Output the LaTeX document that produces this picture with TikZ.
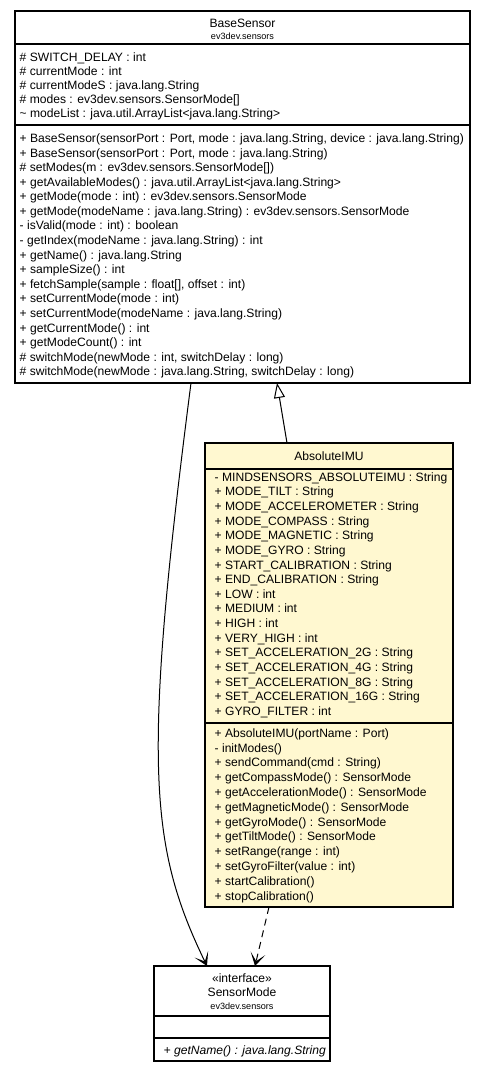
\documentclass[tikz,border=0pt]{standalone}
\usepackage{fontspec}
\setmainfont{Liberation Sans}
\usetikzlibrary{positioning, arrows.meta}
\usepackage{xcolor}
\definecolor{imuyellow}{HTML}{FFF8D0}
\newcommand{\umlfont}{\fontsize{12.1}{14}\selectfont}
\newcommand{\pkgfont}{\fontsize{9.1}{10}\selectfont}

\begin{document}
\begin{tikzpicture}[x=1pt, y=-1pt,
    classbox/.style={draw, line width=1.3pt, inner sep=0pt, outer sep=0pt, anchor=north west},
    member/.style={anchor=base west, inner sep=0pt, font=\umlfont},
    title/.style={anchor=base, inner sep=0pt, font=\umlfont},
    pkg/.style={anchor=base, inner sep=0pt, font=\pkgfont},
    extends/.style={line width=1pt, -{Triangle[open, length=15pt, width=11pt, fill=white]}},
    assoc/.style={line width=1pt, -{Stealth[length=13pt, width=15pt, inset=8pt]}},
    depends/.style={assoc, dash pattern=on 7pt off 5pt}]
    \useasboundingbox (0,0) rectangle (485,1071);

    % Classes
    \node[classbox, minimum width=455pt, minimum height=372pt] (base) at (15,11) {};
    \node[classbox, fill=imuyellow, minimum width=248pt, minimum height=464pt] (imu) at (205,443) {};
    \node[classbox, minimum width=176pt, minimum height=95pt] (mode) at (154,966) {};

    % Compartment lines
    \draw[line width=1.3pt] (base.west |- 0,44) -- (base.east |- 0,44);
    \draw[line width=1.3pt] (base.west |- 0,125) -- (base.east |- 0,125);
    \draw[line width=1.3pt] (imu.west |- 0,469) -- (imu.east |- 0,469);
    \draw[line width=1.3pt] (imu.west |- 0,723) -- (imu.east |- 0,723);
    \draw[line width=1.3pt] (mode.west |- 0,1016) -- (mode.east |- 0,1016);
    \draw[line width=1.3pt] (mode.west |- 0,1038) -- (mode.east |- 0,1038);

    % BaseSensor
    \node[title] (baseName) at (242.5,27) {BaseSensor};
    \node[pkg] (basePkg) at (242.5,39) {ev3dev.sensors};
    \foreach \txt [count=\i] in {%
        {\# SWITCH\_DELAY : int},
        {\# currentMode : int},
        {\# currentModeS : java.lang.String},
        {\# modes : ev3dev.sensors.SensorMode[]},
        {\textasciitilde{} modeList : java.util.ArrayList<java.lang.String>}}
        \node[member] (baseAttr\i) at (19.5, {61+14*(\i-1)}) {\txt};
    \foreach \txt [count=\i] in {%
        {+ BaseSensor(sensorPort : Port, mode : java.lang.String, device : java.lang.String)},
        {+ BaseSensor(sensorPort : Port, mode : java.lang.String)},
        {\# setModes(m : ev3dev.sensors.SensorMode[])},
        {+ getAvailableModes() : java.util.ArrayList<java.lang.String>},
        {+ getMode(mode : int) : ev3dev.sensors.SensorMode},
        {+ getMode(modeName : java.lang.String) : ev3dev.sensors.SensorMode},
        {- isValid(mode : int) : boolean},
        {- getIndex(modeName : java.lang.String) : int},
        {+ getName() : java.lang.String},
        {+ sampleSize() : int},
        {+ fetchSample(sample : float[], offset : int)},
        {+ setCurrentMode(mode : int)},
        {+ setCurrentMode(modeName : java.lang.String)},
        {+ getCurrentMode() : int},
        {+ getModeCount() : int},
        {\# switchMode(newMode : int, switchDelay : long)},
        {\# switchMode(newMode : java.lang.String, switchDelay : long)}}
        \node[member] (baseOp\i) at (19.5, {142.5+14.58*(\i-1)}) {\txt};

    % AbsoluteIMU
    \node[title] (imuName) at (329,460) {AbsoluteIMU};
    \foreach \txt [count=\i] in {%
        {- MINDSENSORS\_ABSOLUTEIMU : String},
        {+ MODE\_TILT : String},
        {+ MODE\_ACCELEROMETER : String},
        {+ MODE\_COMPASS : String},
        {+ MODE\_MAGNETIC : String},
        {+ MODE\_GYRO : String},
        {+ START\_CALIBRATION : String},
        {+ END\_CALIBRATION : String},
        {+ LOW : int},
        {+ MEDIUM : int},
        {+ HIGH : int},
        {+ VERY\_HIGH : int},
        {+ SET\_ACCELERATION\_2G : String},
        {+ SET\_ACCELERATION\_4G : String},
        {+ SET\_ACCELERATION\_8G : String},
        {+ SET\_ACCELERATION\_16G : String},
        {+ GYRO\_FILTER : int}}
        \node[member] (imuAttr\i) at (214.5, {481.3+14.63*(\i-1)}) {\txt};
    \foreach \txt [count=\i] in {%
        {+ AbsoluteIMU(portName : Port)},
        {- initModes()},
        {+ sendCommand(cmd : String)},
        {+ getCompassMode() : SensorMode},
        {+ getAccelerationMode() : SensorMode},
        {+ getMagneticMode() : SensorMode},
        {+ getGyroMode() : SensorMode},
        {+ getTiltMode() : SensorMode},
        {+ setRange(range : int)},
        {+ setGyroFilter(value : int)},
        {+ startCalibration()},
        {+ stopCalibration()}}
        \node[member] (imuOp\i) at (214.5, {737.3+14.8*(\i-1)}) {\txt};

    % SensorMode
    \node[title] (modeStereo) at (242,982) {«interface»};
    \node[title] (modeName) at (242,996) {SensorMode};
    \node[pkg] (modePkg) at (242,1009) {ev3dev.sensors};
    \node[member, font=\umlfont\itshape] (modeOp1) at (163.5,1054) {+ getName() : java.lang.String};

    % Relations
    \draw[extends] ([xshift=82pt]imu.north west) -- ([xshift=262pt]base.south west);
    \draw[assoc] ([xshift=176pt]base.south west) .. controls +(-49,380) and +(-58,-120) .. ([xshift=53pt]mode.north west);
    \draw[depends] ([xshift=64pt]imu.south west) -- ([xshift=101pt]mode.north west);
\end{tikzpicture}
\end{document}
